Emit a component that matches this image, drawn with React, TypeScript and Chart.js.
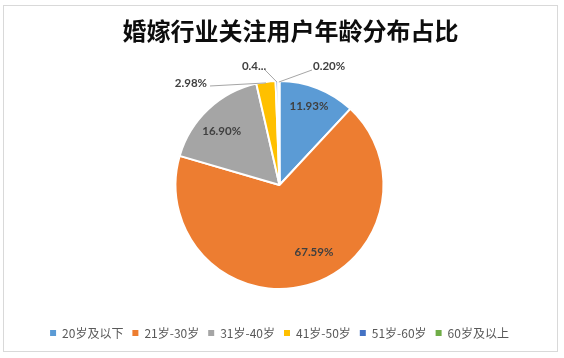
import React, { useEffect, useRef } from 'react';
import { Chart, registerables } from 'chart.js';

Chart.register(...registerables);

const TITLE = '婚嫁行业关注用户年龄分布占比';
const categories = ['20岁及以下', '21岁-30岁', '31岁-40岁', '41岁-50岁', '51岁-60岁', '60岁及以上'];
const shares = [11.93, 67.59, 16.9, 2.98, 0.4, 0.2];
const colors = ['#5B9BD5', '#ED7D31', '#A5A5A5', '#FFC000', '#4472C4', '#70AD47'];

// label placement (relative to pie centre, in units of the radius)
const labelPlacement: any[] = [
  { kind: 'in', shift: -1, ratio: 0.81 },
  { kind: 'in', shift: -11.6, ratio: 0.73 },
  { kind: 'in', shift: -3.7, ratio: 0.76 },
  { kind: 'out', tx: -0.697, ty: -0.981, align: 'right', lx: -0.668, ly: -0.952 },
  { kind: 'out', tx: -0.245, ty: -1.144, align: 'center', lx: -0.139, ly: -1.106, truncate: 3 },
  { kind: 'out', tx: 0.322, ty: -1.144, align: 'left', lx: 0.3125, ly: -1.106 },
];

const CJK = '"Noto Sans CJK SC", "Noto Sans", sans-serif';

const framePlugin = {
  id: 'frame',
  beforeDraw(chart: any) {
    const ctx = chart.ctx;
    ctx.save();
    ctx.fillStyle = '#ffffff';
    ctx.fillRect(0, 0, chart.width, chart.height);
    ctx.strokeStyle = '#D9D9D9';
    ctx.lineWidth = 1;
    ctx.strokeRect(3.5, 5.5, 554, 346);
    ctx.fillStyle = '#0d0d0d';
    ctx.font = `bold 24px ${CJK}`;
    ctx.textAlign = 'center';
    ctx.textBaseline = 'middle';
    ctx.fillText(TITLE, 290.5, 31);
    ctx.restore();
  },
};

const labelPlugin = {
  id: 'sliceLabels',
  afterDatasetsDraw(chart: any) {
    const ctx = chart.ctx;
    const meta = chart.getDatasetMeta(0);
    ctx.save();
    ctx.font = 'bold 11.5px Lato, "DejaVu Sans", sans-serif';
    ctx.fillStyle = '#404040';
    ctx.textBaseline = 'middle';
    meta.data.forEach((el: any, i: number) => {
      const p = el.getProps(['x', 'y', 'startAngle', 'endAngle', 'outerRadius'], true);
      const R = p.outerRadius;
      const mid = (p.startAngle + p.endAngle) / 2;
      const pl = labelPlacement[i];
      let text = shares[i].toFixed(2) + '%';
      if (pl.truncate) text = text.slice(0, pl.truncate) + '...';
      if (pl.kind === 'in') {
        const a = mid + (pl.shift * Math.PI) / 180;
        ctx.textAlign = 'center';
        ctx.fillText(text, p.x + Math.cos(a) * pl.ratio * R, p.y + Math.sin(a) * pl.ratio * R);
      } else {
        ctx.strokeStyle = '#A6A6A6';
        ctx.lineWidth = 1;
        ctx.beginPath();
        ctx.moveTo(p.x + pl.lx * R, p.y + pl.ly * R);
        ctx.lineTo(p.x + Math.cos(mid) * R * 0.99, p.y + Math.sin(mid) * R * 0.99);
        ctx.stroke();
        ctx.textAlign = pl.align;
        ctx.fillText(text, p.x + pl.tx * R, p.y + pl.ty * R);
      }
    });
    ctx.restore();
  },
};

export default function App() {
  const ref = useRef<HTMLCanvasElement | null>(null);
  useEffect(() => {
    if (!ref.current) return;
    const chart = new Chart(ref.current, {
      type: 'pie',
      data: {
        labels: categories,
        datasets: [
          {
            data: shares,
            backgroundColor: colors,
            borderColor: '#ffffff',
            borderWidth: 2,
          },
        ],
      },
      options: {
        animation: false,
        responsive: false,
        radius: 104,
        layout: { padding: { top: 52, bottom: 9, left: 0, right: 5 } },
        plugins: {
          title: { display: false },
          tooltip: { enabled: false },
          legend: {
            display: true,
            position: 'bottom',
            labels: {
              usePointStyle: true,
              pointStyle: 'rect',
              boxWidth: 6,
              boxHeight: 6,
              padding: 9,
              color: '#595959',
              font: { size: 12, family: CJK },
              generateLabels: (c: any) => {
                const items = (Chart as any).overrides.pie.plugins.legend.labels.generateLabels(c);
                return items.map((it: any) => ({ ...it, lineWidth: 0, strokeStyle: it.fillStyle }));
              },
            },
          },
        },
      } as any,
      plugins: [framePlugin, labelPlugin],
    });
    return () => chart.destroy();
  }, []);
  return (
    <div style={{ position: 'absolute', left: 0, top: 0, width: 564, height: 358 }}>
      <canvas ref={ref} width={564} height={358} style={{ width: 564, height: 358 }} />
    </div>
  );
}
